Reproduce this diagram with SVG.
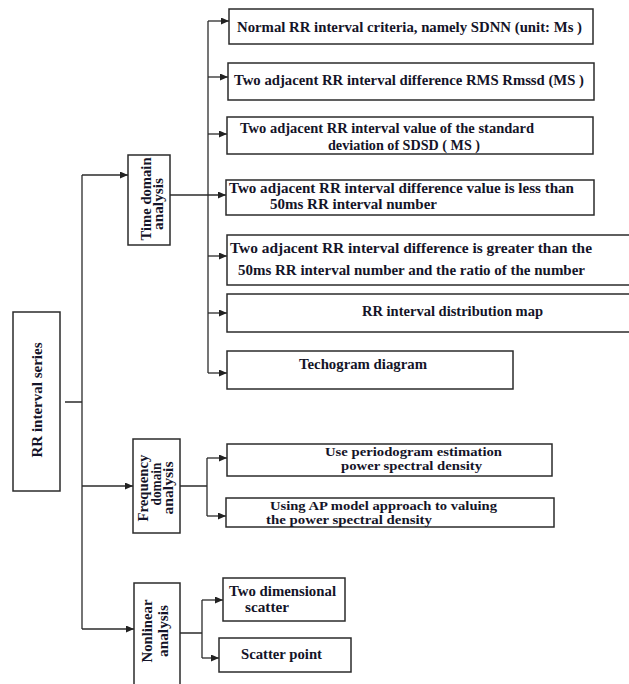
<svg xmlns="http://www.w3.org/2000/svg" width="629" height="684" viewBox="0 0 629 684">
<style>
.box{fill:#fff;stroke:#2b2b2b;stroke-width:1.5}
.t{font-family:"Liberation Serif","Times New Roman",serif;font-weight:bold;font-size:14px;fill:#141428}
.s{font-size:12px}
.c{fill:none;stroke:#2b2b2b;stroke-width:1.3}
</style>
<defs>
<marker id="ah" markerUnits="userSpaceOnUse" markerWidth="9" markerHeight="7" refX="8" refY="3.5" orient="auto">
<path d="M0,0 L8,3.5 L0,7 z" fill="#222"/>
</marker>
</defs>
<rect width="629" height="684" fill="#fff"/>

<g id="connectors">
<path class="c" d="M82,175 V629 M65,402 H82"/>
<path class="c" d="M82,175 H128" marker-end="url(#ah)"/>
<path class="c" d="M82,486 H133" marker-end="url(#ah)"/>
<path class="c" d="M82,629 H134" marker-end="url(#ah)"/>
<path class="c" d="M208,21 V373"/>
<path class="c" d="M170,195 H226" marker-end="url(#ah)"/>
<path class="c" d="M208,21 H229" marker-end="url(#ah)"/>
<path class="c" d="M208,77 H228" marker-end="url(#ah)"/>
<path class="c" d="M208,134 H227" marker-end="url(#ah)"/>
<path class="c" d="M208,256 H227" marker-end="url(#ah)"/>
<path class="c" d="M208,313 H227" marker-end="url(#ah)"/>
<path class="c" d="M208,373 H227" marker-end="url(#ah)"/>
<path class="c" d="M180,486 H207 M207,458 V516"/>
<path class="c" d="M207,458 H227" marker-end="url(#ah)"/>
<path class="c" d="M207,516 H226" marker-end="url(#ah)"/>
<path class="c" d="M180,633 H202 M202,600 V658"/>
<path class="c" d="M202,600 H223" marker-end="url(#ah)"/>
<path class="c" d="M202,658 H219" marker-end="url(#ah)"/>
</g>

<g id="rr-series">
<rect class="box" x="13" y="312" width="47" height="179"/>
<text class="t" transform="translate(37,400) rotate(-90)" x="0" y="4.5" text-anchor="middle" textLength="115" lengthAdjust="spacingAndGlyphs">RR interval series</text>
</g>

<g id="time-domain">
<rect class="box" x="128" y="155" width="42" height="90"/>
<text class="t" transform="translate(146,199) rotate(-90)" x="0" y="4.5" text-anchor="middle" textLength="83" lengthAdjust="spacingAndGlyphs">Time domain</text>
<text class="t" transform="translate(158.5,204) rotate(-90)" x="0" y="4.5" text-anchor="middle" textLength="52" lengthAdjust="spacingAndGlyphs">analysis</text>
</g>

<g id="freq-domain">
<rect class="box" x="133" y="439" width="47" height="94"/>
<text class="t" transform="translate(143,488) rotate(-90)" x="0" y="4.5" text-anchor="middle" textLength="67" lengthAdjust="spacingAndGlyphs">Frequency</text>
<text class="t" transform="translate(156,484) rotate(-90)" x="0" y="4.5" text-anchor="middle" textLength="43" lengthAdjust="spacingAndGlyphs">domain</text>
<text class="t" transform="translate(168,488) rotate(-90)" x="0" y="4.5" text-anchor="middle" textLength="53" lengthAdjust="spacingAndGlyphs">analysis</text>
</g>

<g id="nonlinear">
<rect class="box" x="134" y="583" width="46" height="110"/>
<text class="t" transform="translate(147,631) rotate(-90)" x="0" y="4.5" text-anchor="middle" textLength="63" lengthAdjust="spacingAndGlyphs">Nonlinear</text>
<text class="t" transform="translate(163,631) rotate(-90)" x="0" y="4.5" text-anchor="middle" textLength="52" lengthAdjust="spacingAndGlyphs">analysis</text>
</g>

<g id="sdnn">
<rect class="box" x="229" y="9" width="364" height="35"/>
<text class="t" x="237" y="32" textLength="345" lengthAdjust="spacingAndGlyphs">Normal RR interval criteria, namely SDNN (unit: Ms )</text>
</g>

<g id="rmssd">
<rect class="box" x="228" y="63" width="366" height="37"/>
<text class="t" x="234" y="85" textLength="350" lengthAdjust="spacingAndGlyphs">Two adjacent RR interval  difference RMS Rmssd (MS )</text>
</g>

<g id="sdsd">
<rect class="box" x="227" y="117" width="366" height="37"/>
<text class="t" x="240" y="133" textLength="294" lengthAdjust="spacingAndGlyphs">Two adjacent RR interval  value of the standard</text>
<text class="t" x="328" y="150" textLength="152" lengthAdjust="spacingAndGlyphs">deviation of SDSD ( MS )</text>
</g>

<g id="nn50">
<rect class="box" x="226" y="180" width="368" height="35"/>
<text class="t" x="229" y="193" textLength="345" lengthAdjust="spacingAndGlyphs">Two adjacent RR  interval difference  value is less than</text>
<text class="t" x="270" y="209" textLength="167" lengthAdjust="spacingAndGlyphs">50ms RR interval  number</text>
</g>

<g id="pnn50">
<rect class="box" x="227" y="235" width="405" height="50"/>
<text class="t" x="230" y="253" textLength="362" lengthAdjust="spacingAndGlyphs">Two adjacent RR   interval difference   is greater than the</text>
<text class="t" x="238" y="275" textLength="347" lengthAdjust="spacingAndGlyphs">50ms RR interval  number and the  ratio of the number</text>
</g>

<g id="distribution">
<rect class="box" x="227" y="294" width="405" height="38"/>
<text class="t" x="362" y="316" textLength="181" lengthAdjust="spacingAndGlyphs">RR interval distribution map</text>
</g>

<g id="techogram">
<rect class="box" x="227" y="351" width="286" height="38"/>
<text class="t" x="299" y="369" textLength="128" lengthAdjust="spacingAndGlyphs">Techogram diagram</text>
</g>

<g id="periodogram">
<rect class="box" x="227" y="444" width="325" height="32"/>
<text class="t s" x="325" y="456" textLength="177" lengthAdjust="spacingAndGlyphs">Use periodogram estimation</text>
<text class="t s" x="341" y="469.5" textLength="141" lengthAdjust="spacingAndGlyphs">power spectral density</text>
</g>

<g id="ap-model">
<rect class="box" x="226" y="498" width="328" height="29"/>
<text class="t s" x="270" y="510" textLength="227" lengthAdjust="spacingAndGlyphs">Using AP model approach to valuing</text>
<text class="t s" x="266" y="523.5" textLength="166" lengthAdjust="spacingAndGlyphs">the power spectral density</text>
</g>

<g id="two-dim">
<rect class="box" x="223" y="578" width="122" height="43"/>
<text class="t" x="229" y="596" textLength="107" lengthAdjust="spacingAndGlyphs">Two dimensional</text>
<text class="t" x="245" y="612" textLength="44" lengthAdjust="spacingAndGlyphs">scatter</text>
</g>

<g id="scatter-point">
<rect class="box" x="219" y="638" width="132" height="34"/>
<text class="t" x="241" y="659" textLength="81" lengthAdjust="spacingAndGlyphs">Scatter point</text>
</g>
</svg>
